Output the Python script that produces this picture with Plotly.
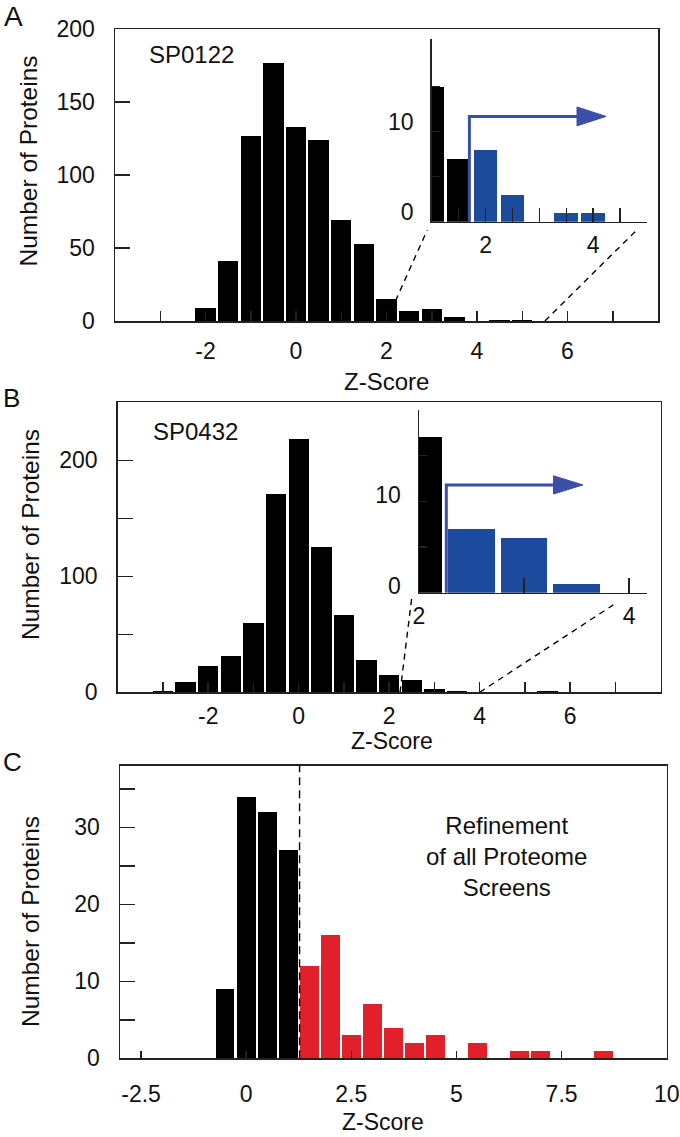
import plotly.graph_objects as go

W, H = 680, 1137

# ---------------- data ----------------
# Panel A (SP0122)
a_z = [-2.0, -1.5, -1.0, -0.5, 0.0, 0.5, 1.0, 1.5, 2.0, 2.5, 3.0, 3.5, 4.0, 4.5, 5.0]
a_n = [9, 41, 127, 177, 133, 124, 69, 53, 15, 7, 8, 3, 0, 1, 1]
a_inset_z = [2.0, 2.5, 3.0, 3.5, 4.5, 5.0]
a_inset_n = [15, 7, 8, 3, 1, 1]
a_inset_hit = [False, False, True, True, True, True]

# Panel B (SP0432)
b_z = [-3.0, -2.5, -2.0, -1.5, -1.0, -0.5, 0.0, 0.5, 1.0, 1.5, 2.0, 2.5, 3.0, 3.5, 4.0, 4.5, 5.0, 5.5]
b_n = [1, 9, 23, 31, 60, 171, 218, 125, 67, 28, 15, 11, 3, 1, 0, 0, 0, 1]
b_inset_z = [2.0, 2.5, 3.0, 3.5]
b_inset_n = [17, 7, 6, 1]
b_inset_hit = [False, True, True, True]

# Panel C (refinement)
c_black_z = [-0.5, 0.0, 0.5, 1.0]
c_black_n = [9, 34, 32, 27]
c_red_z = [1.5, 2.0, 2.5, 3.0, 3.5, 4.0, 4.5, 5.0, 5.5, 6.0, 6.5, 7.0, 7.5, 8.0, 8.5]
c_red_n = [12, 16, 3, 7, 4, 2, 3, 0, 2, 0, 1, 1, 0, 0, 1]
c_cutoff = 1.27

# ticks
ab_xticks = [-3, -2, -1, 0, 1, 2, 3, 4, 5, 6, 7]
ab_xticklabels = ["", "-2", "", "0", "", "2", "", "4", "", "6", ""]
a_yticks = [0, 50, 100, 150, 200]
a_yticklabels = ["0", "50", "100", "150", "200"]
b_yticks = [0, 50, 100, 150, 200]
b_yticklabels = ["0", "", "100", "", "200"]
c_xticks = [-2.5, 0, 2.5, 5, 7.5, 10]
c_xticklabels = ["-2.5", "0", "2.5", "5", "7.5", "10"]
c_yticks = [0, 5, 10, 15, 20, 25, 30, 35]
c_yticklabels = ["0", "", "10", "", "20", "", "30", ""]
ia_xticks = [2.0, 2.5, 3.0, 3.5, 4.0, 4.5, 5.0, 5.5]
ia_xticklabels = ["", "", "2", "", "", "", "4", ""]
ib_xticks = [2.0, 3.0, 4.0]
ib_xticklabels = ["2", "", "4"]
inset_yticks = [5, 10, 15]
inset_ylabels = ["0", "10"]
inset_ylabel_vals = [0, 10]

# ---------------- style ----------------
BLACK = "#000000"
RED = "#e2202b"
BLUE = "#1c4a9c"
ARROW = "#3b4fa6"
FRAME = "#222222"
FONT = "Liberation Sans, Arial, sans-serif"
TXT = "#111111"


def px_x(x):
    return x / W


def px_y(y):
    return 1 - y / H


def dom(x0, x1, y0, y1):
    return [px_x(x0), px_x(x1)], [px_y(y1), px_y(y0)]


fig = go.Figure()

fig.add_trace(go.Bar(x=a_z, y=a_n, width=0.45, marker=dict(color=BLACK, line_width=0),
                     xaxis="x", yaxis="y", showlegend=False))
fig.add_trace(go.Bar(x=a_inset_z, y=a_inset_n, width=0.44,
                     marker=dict(color=[BLUE if h else BLACK for h in a_inset_hit], line_width=0),
                     xaxis="x2", yaxis="y2", showlegend=False))
fig.add_trace(go.Bar(x=b_z, y=b_n, width=0.45, marker=dict(color=BLACK, line_width=0),
                     xaxis="x3", yaxis="y3", showlegend=False))
fig.add_trace(go.Bar(x=b_inset_z, y=b_inset_n, width=0.44,
                     marker=dict(color=[BLUE if h else BLACK for h in b_inset_hit], line_width=0),
                     xaxis="x4", yaxis="y4", showlegend=False))
fig.add_trace(go.Bar(x=c_black_z, y=c_black_n, width=0.445, marker=dict(color=BLACK, line_width=0),
                     xaxis="x5", yaxis="y5", showlegend=False))
fig.add_trace(go.Bar(x=c_red_z, y=c_red_n, width=0.445, marker=dict(color=RED, line_width=0),
                     xaxis="x5", yaxis="y5", showlegend=False))

tickfont = dict(family=FONT, size=23, color=TXT)


def main_axes(xd, yd, xr, yr, xt, xtl, yt, ytl, xlen=10, ylen=15, xstand=12):
    xa = dict(domain=xd, range=xr, showline=True, mirror=True, linecolor=FRAME, linewidth=1.5,
              ticks="inside", ticklen=xlen, tickwidth=1.5, tickcolor=FRAME,
              tickvals=xt, ticktext=xtl, showgrid=False, zeroline=False, automargin=False,
              tickfont=tickfont, ticklabelstandoff=xstand, fixedrange=True)
    ya = dict(domain=yd, range=yr, showline=True, mirror=True, linecolor=FRAME, linewidth=1.5,
              ticks="inside", ticklen=ylen, tickwidth=1.5, tickcolor=FRAME,
              tickvals=yt, ticktext=ytl, showgrid=False, zeroline=False, automargin=False,
              tickfont=tickfont, ticklabelstandoff=14, fixedrange=True)
    return xa, ya


def inset_axes(xd, yd, xr, yr, xt, xtl, xlen, label_lift):
    xa = dict(domain=xd, range=xr, showline=True, mirror=False, linecolor=FRAME, linewidth=1.5,
              ticks="inside", ticklen=xlen, tickwidth=1.5, tickcolor=FRAME,
              tickvals=xt, ticktext=xtl, showgrid=False, zeroline=False, automargin=False,
              tickfont=tickfont, ticklabelstandoff=2, fixedrange=True)
    # labels sit slightly above their tick marks, as in the original inset artwork
    ya = dict(domain=yd, range=yr, showline=True, mirror=False, linecolor=FRAME, linewidth=1.5,
              ticks="", tickvals=[v + label_lift for v in inset_ylabel_vals], ticktext=inset_ylabels,
              minor=dict(tickvals=inset_yticks, ticks="inside", ticklen=8, tickwidth=1.5,
                         tickcolor=FRAME, showgrid=False),
              showgrid=False, zeroline=False,
              automargin=False, tickfont=tickfont, ticklabelstandoff=12, fixedrange=True)
    return xa, ya


xdA, ydA = dom(115, 658, 29, 321)
xdAi, ydAi = dom(431.7, 647, 39, 221.7)
xdB, ydB = dom(117.7, 660.7, 402.3, 692.3)
xdBi, ydBi = dom(419, 647, 410, 592.7)
xdC, ydC = dom(120, 666.7, 765.7, 1058.3)

x1, y1 = main_axes(xdA, ydA, [-4, 8], [0, 200], ab_xticks, ab_xticklabels, a_yticks, a_yticklabels,
                   xstand=9)
x2, y2 = inset_axes(xdAi, ydAi, [2.0, 6.0], [0, 20.3], ia_xticks, ia_xticklabels, 14, 1.1)
x3, y3 = main_axes(xdB, ydB, [-4, 8], [0, 250], ab_xticks, ab_xticklabels, b_yticks, b_yticklabels,
                   xstand=3)
x4, y4 = inset_axes(xdBi, ydBi, [2.0, 4.17], [0, 20], ib_xticks, ib_xticklabels, 15, 0.7)
x5, y5 = main_axes(xdC, ydC, [-3, 10], [0, 38], c_xticks, c_xticklabels, c_yticks, c_yticklabels,
                   xlen=7, xstand=15)

x1["anchor"] = "y"; y1["anchor"] = "x"
x2["anchor"] = "y2"; y2["anchor"] = "x2"
x3["anchor"] = "y3"; y3["anchor"] = "x3"
x4["anchor"] = "y4"; y4["anchor"] = "x4"
x5["anchor"] = "y5"; y5["anchor"] = "x5"

shapes = []
dash = "6px,5px"
shapes.append(dict(type="line", xref="x", yref="y", x0=2.0, y0=0, x1=2.90, y1=62.3,
                   line=dict(color=BLACK, width=1.4, dash=dash), layer="below"))
shapes.append(dict(type="line", xref="x", yref="y", x0=5.5, y0=0, x1=7.57, y1=63.5,
                   line=dict(color=BLACK, width=1.4, dash=dash), layer="below"))
shapes.append(dict(type="line", xref="x3", yref="y3", x0=2.24, y0=0, x1=2.50, y1=82,
                   line=dict(color=BLACK, width=1.4, dash=dash), layer="below"))
shapes.append(dict(type="line", xref="x3", yref="y3", x0=4.0, y0=0, x1=6.95, y1=75.3,
                   line=dict(color=BLACK, width=1.4, dash=dash), layer="below"))
shapes.append(dict(type="line", xref="x5", yref="y5", x0=c_cutoff, y0=0, x1=c_cutoff, y1=38,
                   line=dict(color=BLACK, width=1.4, dash="8px,5px")))
shapes.append(dict(type="path", xref="x2", yref="y2", path="M 2.70,0 L 2.70,11.7 L 4.72,11.7",
                   line=dict(color=ARROW, width=3)))
shapes.append(dict(type="path", xref="x2", yref="y2", path="M 4.70,10.65 L 5.24,11.7 L 4.70,12.75 Z",
                   line=dict(color=ARROW, width=1), fillcolor=ARROW))
shapes.append(dict(type="path", xref="x4", yref="y4", path="M 2.26,0 L 2.26,11.8 L 3.30,11.8",
                   line=dict(color=ARROW, width=3)))
shapes.append(dict(type="path", xref="x4", yref="y4", path="M 3.28,10.8 L 3.56,11.8 L 3.28,12.8 Z",
                   line=dict(color=ARROW, width=1), fillcolor=ARROW))

annotations = []


def ann(text, x, y, size, angle=0):
    annotations.append(dict(text=text, x=px_x(x), y=px_y(y), xref="paper", yref="paper",
                            xanchor="center", yanchor="middle", showarrow=False, textangle=angle,
                            font=dict(family=FONT, size=size, color=TXT)))


ann("A", 13, 16.5, 28)
ann("B", 11.5, 397.5, 26)
ann("C", 12.5, 762, 26)
ann("SP0122", 191.7, 54.7, 24)
ann("SP0432", 196, 431.7, 24)
ann("Refinement<br>of all Proteome<br>Screens", 506.7, 856.7, 24)
ann("Z-Score", 386, 381.7, 24)
ann("Z-Score", 392.5, 740.5, 23)
ann("Z-Score", 382.5, 1121.5, 23)
ann("Number of Proteins", 27.5, 161, 24.5, -90)
ann("Number of Proteins", 30, 535, 24.5, -90)
ann("Number of Proteins", 30, 922, 24.5, -90)

fig.update_layout(
    width=W, height=H, margin=dict(l=0, r=0, t=0, b=0, autoexpand=False),
    paper_bgcolor="white", plot_bgcolor="rgba(0,0,0,0)",
    xaxis=x1, yaxis=y1, xaxis2=x2, yaxis2=y2, xaxis3=x3, yaxis3=y3,
    xaxis4=x4, yaxis4=y4, xaxis5=x5, yaxis5=y5,
    shapes=shapes, annotations=annotations, bargap=0, showlegend=False,
    font=dict(family=FONT),
)

fig.write_html("out.html", config=dict(displayModeBar=False, staticPlot=True),
               post_script="document.body.style.margin='0';document.body.style.overflow='hidden';")
